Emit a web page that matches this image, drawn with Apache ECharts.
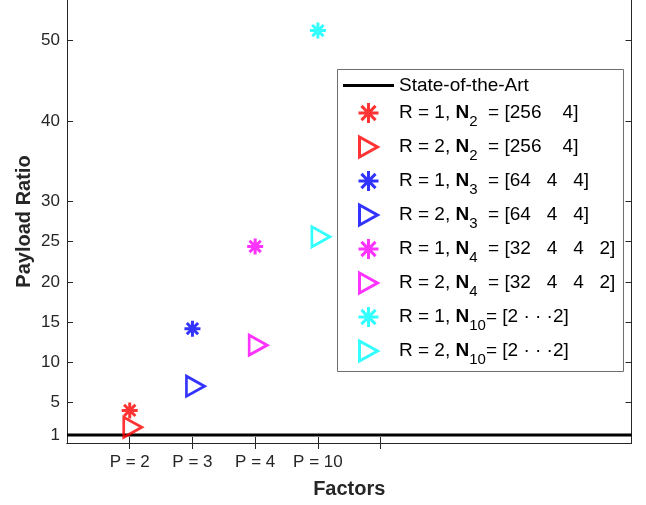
<!DOCTYPE html>
<html>
<head>
<meta charset="utf-8">
<script src="https://cdn.jsdelivr.net/npm/echarts@6/dist/echarts.min.js"></script>
<style>
  html, body { margin: 0; padding: 0; background: #fff; }
  #chart { width: 646px; height: 505px; }
</style>
</head>
<body>
<div id="chart"></div>
<script>
// Factor groups along the x axis
const factorPos = [2, 3, 4, 5];
const factorLabels = ['P = 2', 'P = 3', 'P = 4', 'P = 10'];
const xTickPos = [2, 3, 4, 5, 6];
const yTicks = [1, 5, 10, 15, 20, 25, 30, 40, 50];

// Payload ratio of the baseline and of each tensor order
const stateOfTheArt = 1;
const ratioR1 = [4.05, 14.2, 24.4, 51.2];
const ratioR2 = [1.95, 7.05, 12.15, 25.6];

// Legend descriptions per tensor order
const orderSub = ['2', '3', '4', '10'];
const orderDims = ['  = [256    4]', '  = [64   4   4]', '  = [32   4   4   2]', '= [2 \u00B7 \u00B7 \u00B72]'];
const colors = ['#ff0000', '#0000ff', '#ff00ff', '#00ffff'];

const FONT = '"Liberation Sans", Arial, Helvetica, sans-serif';
const AXIS_COLOR = '#262626';

const STAR = 'path://M10 0L10 20M0 10L20 10M2.93 2.93L17.07 17.07M2.93 17.07L17.07 2.93';
const TRI = 'path://M0 0L0 20L18 10Z';
const BAR_ICON = 'path://M0 0L51 0L51 3L0 3Z';

const richNames = {};
const series = [{
  name: 'State-of-the-Art',
  type: 'line',
  data: [[1, stateOfTheArt], [10, stateOfTheArt]],
  symbol: 'none',
  lineStyle: { color: '#000', width: 3 },
  itemStyle: { color: '#000' },
  silent: true,
  z: 2
}];
richNames['State-of-the-Art'] = 'State-of-the-Art';

for (let i = 0; i < factorPos.length; i++) {
  const n1 = 'R = 1, N' + orderSub[i];
  const n2 = 'R = 2, N' + orderSub[i];
  richNames[n1] = 'R = 1, {b|N}{s|' + orderSub[i] + '}' + orderDims[i];
  richNames[n2] = 'R = 2, {b|N}{s|' + orderSub[i] + '}' + orderDims[i];
  series.push({
    name: n1,
    type: 'scatter',
    data: [[factorPos[i], ratioR1[i]]],
    symbol: STAR,
    symbolSize: 16,
    itemStyle: { color: 'none', borderColor: colors[i], borderWidth: 3 },
    emphasis: { disabled: true },
    silent: true,
    z: 3
  });
  series.push({
    name: n2,
    type: 'scatter',
    data: [[factorPos[i], ratioR2[i]]],
    symbol: TRI,
    symbolSize: [18, 20],
    symbolOffset: [3, 0],
    itemStyle: { color: 'none', borderColor: colors[i], borderWidth: 2.8 },
    emphasis: { disabled: true },
    silent: true,
    z: 3
  });
}

const legendData = series.map(function (s) {
  if (s.type === 'line') {
    return { name: s.name, icon: BAR_ICON, itemStyle: { color: '#000', borderWidth: 0 } };
  }
  return {
    name: s.name,
    itemStyle: { color: 'none', borderColor: s.itemStyle.borderColor, borderWidth: 3 }
  };
});

const chart = echarts.init(document.getElementById('chart'), null, { renderer: 'canvas' });

const tickStyle = { show: true, inside: true, length: 6, lineStyle: { color: AXIS_COLOR, width: 1 } };
const lineStyle = { show: true, lineStyle: { color: AXIS_COLOR, width: 1 } };

chart.setOption({
  animation: false,
  backgroundColor: '#fff',
  textStyle: { fontFamily: FONT },
  grid: { left: 67, right: 14.5, top: -3, bottom: 62, containLabel: false },
  xAxis: [{
    type: 'value',
    min: 1, max: 10,
    position: 'bottom',
    axisLine: lineStyle,
    axisTick: Object.assign({ customValues: xTickPos }, tickStyle),
    splitLine: { show: false },
    axisLabel: {
      customValues: factorPos,
      margin: 11,
      fontSize: 17,
      color: AXIS_COLOR,
      fontFamily: FONT,
      formatter: function (v) {
        const k = factorPos.indexOf(v);
        return k >= 0 ? factorLabels[k] : '';
      }
    },
    name: 'Factors',
    nameLocation: 'middle',
    nameGap: 36,
    nameMoveOverlap: false,
    nameTextStyle: { fontSize: 20, fontWeight: 'bold', color: AXIS_COLOR, fontFamily: FONT }
  }, {
    type: 'value',
    min: 1, max: 10,
    position: 'top',
    axisLine: lineStyle,
    axisTick: Object.assign({ customValues: xTickPos }, tickStyle),
    axisLabel: { show: false },
    splitLine: { show: false }
  }],
  yAxis: [{
    type: 'value',
    min: 0, max: 55,
    position: 'left',
    axisLine: lineStyle,
    axisTick: Object.assign({ customValues: yTicks }, tickStyle),
    splitLine: { show: false },
    axisLabel: {
      customValues: yTicks,
      margin: 7,
      fontSize: 17,
      color: AXIS_COLOR,
      fontFamily: FONT
    },
    name: 'Payload Ratio',
    nameLocation: 'middle',
    nameRotate: 90,
    nameGap: 33,
    nameMoveOverlap: false,
    nameTextStyle: { fontSize: 20, fontWeight: 'bold', color: AXIS_COLOR, fontFamily: FONT }
  }, {
    type: 'value',
    min: 0, max: 55,
    position: 'right',
    axisLine: lineStyle,
    axisTick: Object.assign({ customValues: yTicks }, tickStyle),
    axisLabel: { show: false },
    splitLine: { show: false }
  }],
  graphic: [{
    type: 'rect',
    shape: { x: 337.5, y: 69.5, width: 286, height: 302 },
    style: { fill: '#fff', stroke: '#6e6e6e', lineWidth: 1 },
    z: 5,
    silent: true
  }],
  legend: {
    orient: 'vertical',
    left: 343,
    top: 76,
    z: 6,
    padding: 0,
    itemWidth: 51,
    itemHeight: 20,
    itemGap: 2,
    selectedMode: false,
    data: legendData,
    textStyle: {
      fontSize: 19,
      color: '#000',
      fontFamily: FONT,
      rich: {
        b: { fontSize: 19, fontWeight: 'bold', color: '#000', fontFamily: FONT },
        s: { fontSize: 15, lineHeight: 14, padding: [17, 0, 0, 0], color: '#000', fontFamily: FONT }
      }
    },
    formatter: function (name) { return richNames[name]; }
  },
  series: series
});
</script>
</body>
</html>
